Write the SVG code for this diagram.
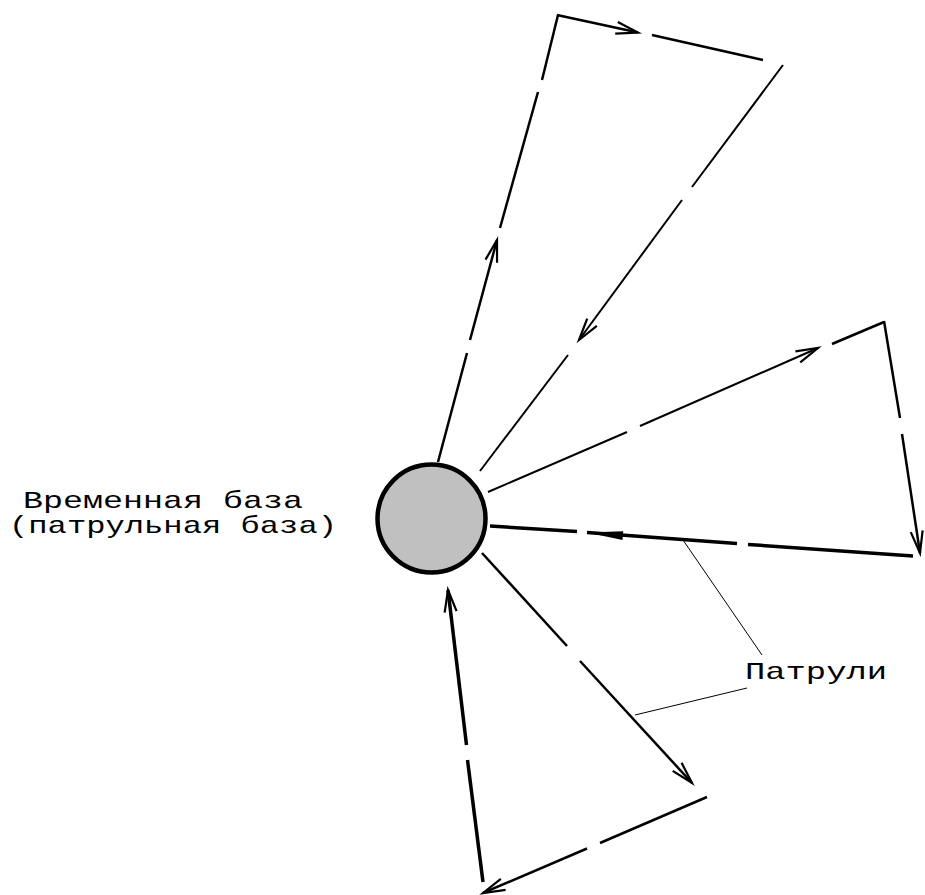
<svg xmlns="http://www.w3.org/2000/svg" width="925" height="895" viewBox="0 0 925 895">
<defs>
<style>
.l{stroke:#000;fill:none;stroke-linecap:butt}
.t{stroke-width:2.5}
.m{stroke-width:2}
.k{stroke-width:3.5}
.lead{stroke:#000;stroke-width:1;fill:none}
.txt{font-family:"Liberation Mono","Courier New",monospace;font-size:24px;fill:#000}
</style>
<marker id="ah" markerUnits="userSpaceOnUse" markerWidth="30" markerHeight="20" viewBox="-24 -10 30 20" refX="0" refY="0" orient="auto">
<path d="M-22,-6 L0,0 L-22,6" stroke="#000" stroke-width="2.2" fill="none"/>
</marker>
<marker id="af" markerUnits="userSpaceOnUse" markerWidth="44" markerHeight="20" viewBox="-40 -10 44 20" refX="0" refY="0" orient="auto">
<path d="M-36,-5 L0,0 L-36,4 Z" fill="#000"/>
</marker>
</defs>
<rect width="925" height="895" fill="#fff"/>
<g id="connectors">
<!-- patrol 1 -->
<line class="l t" x1="438" y1="462" x2="467" y2="353"/>
<line class="l t" x1="470" y1="340" x2="497" y2="240" marker-end="url(#ah)"/>
<line class="l t" x1="500" y1="228" x2="538" y2="92"/>
<line class="l t" x1="542" y1="80" x2="558" y2="15"/>
<line class="l t" x1="557" y1="15" x2="638" y2="32.5" marker-end="url(#ah)"/>
<line class="l t" x1="652" y1="35" x2="763" y2="60"/>
<line class="l m" x1="783" y1="65" x2="692" y2="187"/>
<line class="l m" x1="682" y1="200" x2="579" y2="340" marker-end="url(#ah)"/>
<line class="l m" x1="568" y1="355" x2="480" y2="471"/>
<!-- patrol 2 -->
<line class="l m" x1="488" y1="492" x2="627" y2="432"/>
<line class="l m" x1="640" y1="426" x2="818" y2="348" marker-end="url(#ah)"/>
<line class="l t" x1="832" y1="344" x2="884" y2="322"/>
<line class="l t" x1="884" y1="321" x2="900" y2="418"/>
<line class="l t" x1="902" y1="434" x2="920" y2="553" marker-end="url(#ah)"/>
<line class="l k" x1="913" y1="556" x2="748" y2="544.5"/>
<line class="l k" x1="737" y1="543.5" x2="587" y2="532.5" marker-end="url(#af)"/>
<line class="l k" x1="577" y1="531.5" x2="490" y2="526"/>
<!-- patrol 3 -->
<line class="l t" x1="482" y1="553" x2="567" y2="646"/>
<line class="l t" x1="580" y1="661" x2="692" y2="783" marker-end="url(#ah)"/>
<line class="l t" x1="707" y1="797" x2="600" y2="843"/>
<line class="l t" x1="587" y1="848.5" x2="483" y2="893" marker-end="url(#ah)"/>
<line class="l k" x1="483" y1="882" x2="467.5" y2="760"/>
<line class="l k" x1="466.5" y1="745" x2="448" y2="590" marker-end="url(#ah)"/>
<!-- leaders -->
<line class="lead" x1="683" y1="540" x2="762" y2="655"/>
<line class="lead" x1="747" y1="688" x2="635" y2="715"/>
</g>
<g id="base">
<circle cx="431.5" cy="518.5" r="54" fill="#c0c0c0" stroke="#000" stroke-width="4.5"/>
</g>
<g id="label-base">
<text class="txt" x="23" y="508" textLength="280" lengthAdjust="spacingAndGlyphs">Временная база</text>
<text class="txt" x="9" y="533" textLength="328" lengthAdjust="spacingAndGlyphs">(патрульная база)</text>
</g>
<g id="label-patrols">
<text class="txt" x="745" y="679" textLength="142" lengthAdjust="spacingAndGlyphs">Патрули</text>
</g>
</svg>
